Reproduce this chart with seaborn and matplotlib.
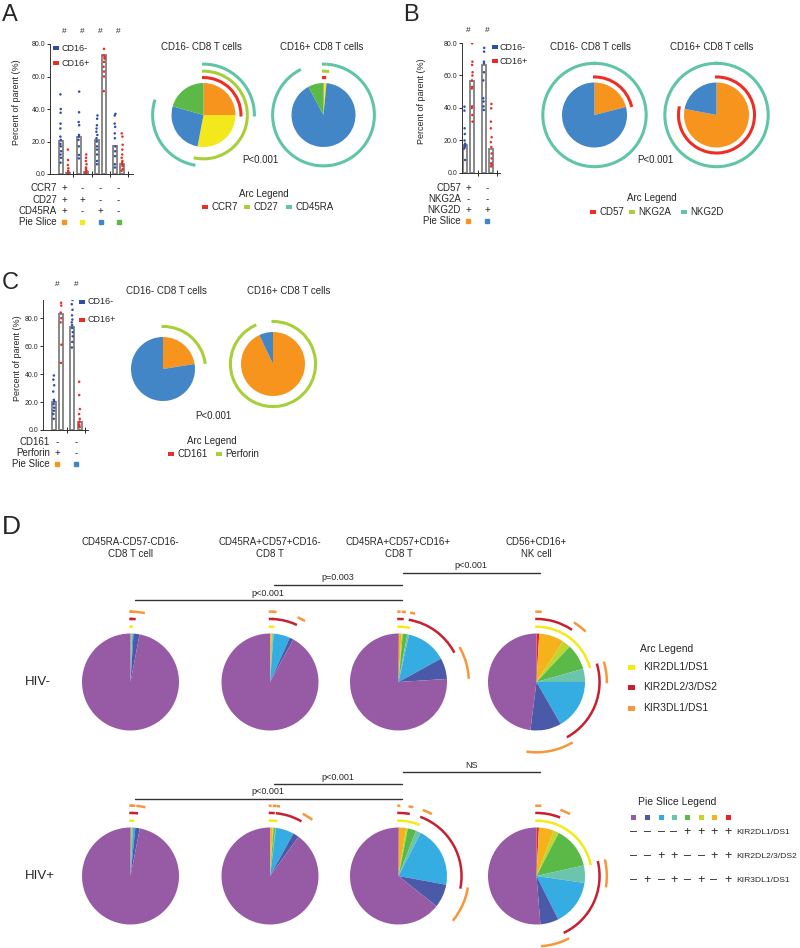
import numpy as np
import pandas as pd
import matplotlib
matplotlib.use("Agg")
import matplotlib.pyplot as plt
from matplotlib.patches import Arc, Rectangle
from matplotlib.transforms import blended_transform_factory
import seaborn as sns

W, H = 800, 948

# ----------------------------- colours -----------------------------
CD16N_COL = "#2E4DA6"
CD16P_COL = "#EC2A24"
ORANGE, YELLOW, BLUE, GREEN = "#F7941D", "#F2E81C", "#4286C7", "#5CB847"
ARC_RED, ARC_YG, ARC_TEAL = "#EE2E24", "#A8CF38", "#5FC5A6"
KIR_COLS = ["#975AA4", "#4A5AA8", "#35ADE2", "#6BC4AC", "#5BB947", "#BFD630", "#F6B21A", "#EC2227"]
KIR_ARC_COLS = ["#F4EA1A", "#C8202F", "#F7963A"]

# ----------------------------- data: panel A -----------------------------
A_MARKERS = ["CCR7", "CD27", "CD45RA"]
A_SIGNS = [["+", "-", "-", "-"], ["+", "+", "-", "-"], ["+", "-", "+", "-"]]
A_SLICE_COLS = [ORANGE, YELLOW, BLUE, GREEN]
A_BAR_CD16N = [20.3, 22.7, 21.0, 17.0]
A_BAR_CD16P = [0.8, 1.5, 73.0, 6.0]
A_DOTS_CD16N = [[49, 40, 37.7, 31, 28, 23, 21, 18.5, 17, 14, 12, 10, 7],
                [50.7, 38, 32, 30, 24, 23, 21, 17, 11.7, 9.6],
                [36, 34, 30, 28, 26, 24, 22, 20, 17, 15, 12, 8, 6],
                [37, 36, 31, 29, 25, 22, 17, 14, 11, 6, 4]]
A_DOTS_CD16P = [[15, 8.6, 5.5, 3.5, 2, 1.4, 0.8, 0.4],
                [12, 10, 8, 6, 4, 3, 2, 1.5, 1, 0.5],
                [77, 73, 72, 71, 69, 66, 63, 60, 51],
                [25, 23, 18, 15, 12, 10, 8, 7, 6, 5, 3, 2]]
A_PIE_CD16N = [25.0, 28.0, 26.4, 20.6]
A_PIE_CD16P = [0.5, 1.0, 90.7, 7.8]

# ----------------------------- data: panel B -----------------------------
B_MARKERS = ["CD57", "NKG2A", "NKG2D"]
B_SIGNS = [["+", "-"], ["-", "-"], ["+", "+"]]
B_SLICE_COLS = [ORANGE, BLUE]
B_BAR_CD16N = [17.5, 66.5]
B_BAR_CD16P = [56.5, 15.0]
B_DOTS_CD16N = [[40.8, 38.4, 27.5, 24, 20, 18, 17, 16, 15, 8],
                [77, 74.7, 68.5, 67.5, 62, 57, 46, 44, 41, 38.8]]
B_DOTS_CD16P = [[79.8, 68.5, 66.5, 62, 60, 57, 53, 52, 41, 40, 35.7, 31.6],
                [42.5, 39.8, 31.6, 27.5, 22, 19, 16, 12, 9, 6, 5, 4]]
B_PIE_CD16N = [21.0, 79.0]
B_PIE_CD16P = [78.0, 22.0]

# ----------------------------- data: panel C -----------------------------
C_MARKERS = ["CD161", "Perforin"]
C_SIGNS = [["-", "-"], ["+", "-"]]
C_SLICE_COLS = [ORANGE, BLUE]
C_BAR_CD16N = [20.0, 74.0]
C_BAR_CD16P = [83.0, 5.5]
C_DOTS_CD16N = [[39, 36, 32, 27.5, 21.6, 20.6, 18.5, 16, 13.8, 11.4, 8],
                [93, 90, 86, 82, 79, 77, 75, 73, 70, 67, 63, 59]]
C_DOTS_CD16P = [[95, 91, 89, 84, 80, 77, 61, 48],
                [34.5, 25, 15, 11.4, 8, 6, 4, 3, 2]]
C_PIE_CD16N = [22.5, 77.5]
C_PIE_CD16P = [93.0, 7.0]

# ----------------------------- data: panel D -----------------------------
# slice order = legend order: purple, dark blue, light blue, teal, green, yellow-green, orange, red
KIR_MARKERS = ["KIR2DL1/DS1", "KIR2DL2/3/DS2", "KIR3DL1/DS1"]
KIR_SIGNS = [["-", "-", "-", "-", "+", "+", "+", "+"],
             ["-", "-", "+", "+", "-", "-", "+", "+"],
             ["-", "+", "-", "+", "-", "+", "-", "+"]]
D_COLUMNS = ["CD45RA-CD57-CD16-\nCD8 T cell", "CD45RA+CD57+CD16-\nCD8 T",
             "CD45RA+CD57+CD16+\nCD8 T", "CD56+CD16+\nNK cell"]
D_ROWS = ["HIV-", "HIV+"]
D_HIVN = [[97.0, 2.0, 0.4, 0.25, 0.15, 0.05, 0.1, 0.05],
          [92.0, 1.3, 5.5, 0.3, 0.2, 0.1, 0.5, 0.1],
          [76.0, 7.0, 13.5, 0.6, 1.5, 0.4, 0.8, 0.2],
          [48.0, 10.3, 16.7, 4.4, 8.6, 2.8, 8.3, 0.9]]
D_HIVP = [[96.9, 1.5, 0.8, 0.1, 0.3, 0.2, 0.1, 0.1],
          [90.0, 2.0, 6.0, 0.2, 0.6, 0.3, 0.8, 0.1],
          [64.3, 7.8, 20.3, 1.7, 2.8, 0.55, 2.4, 0.15],
          [51.3, 6.1, 15.3, 5.8, 13.9, 1.8, 5.0, 0.8]]
D_TESTS_HIVN = [("p<0.001", 0, 2), ("p=0.003", 1, 2), ("p<0.001", 2, 3)]
D_TESTS_HIVP = [("p<0.001", 0, 2), ("p<0.001", 1, 2), ("NS", 2, 3)]

# ----------------------------- layout (pixels) -----------------------------
ARC_RADII = [1.17, 1.37, 1.59]
KIR_RADII = [1.14, 1.30, 1.45]
D_PIE_X = [130.5, 270, 398.5, 536.5]
D_PIE_Y = [682, 876]
D_R = 48.5

sns.set_style("ticks")
plt.rcParams["font.family"] = ["Liberation Sans", "DejaVu Sans"]

fig = plt.figure(figsize=(W / 100, H / 100), dpi=100)

ov = fig.add_axes([0, 0, 1, 1])
ov.set_xlim(0, W)
ov.set_ylim(H, 0)
ov.axis("off")
ov.set_zorder(10)


def px_rect(x0, y0, x1, y1):
    return [x0 / W, 1 - y1 / H, (x1 - x0) / W, (y1 - y0) / H]


def text(x, y, s, size=7, ha="center", va="center", **kw):
    ov.text(x, y, s, fontsize=size, ha=ha, va=va, **kw)


def swatch(x, y, col, w=6, h=4):
    ov.add_patch(Rectangle((x, y - h / 2), w, h, color=col, lw=0))


def bar_panel(box, xlim, ylim, bar_n, bar_p, dots_n, dots_p, hash_y, ylab_x):
    x0, y0, x1, y1 = box
    ax = fig.add_axes(px_rect(*box))
    groups = [f"g{i}" for i in range(len(bar_n))]
    bar_df = pd.DataFrame({"group": groups * 2,
                           "cells": ["CD16-"] * len(groups) + ["CD16+"] * len(groups),
                           "pct": list(bar_n) + list(bar_p)})
    rows = []
    for cells, dots in (("CD16-", dots_n), ("CD16+", dots_p)):
        for g, vals in zip(groups, dots):
            rows += [(g, cells, v) for v in vals]
    dot_df = pd.DataFrame(rows, columns=["group", "cells", "pct"])

    sns.barplot(data=bar_df, x="group", y="pct", hue="cells", order=groups,
                hue_order=["CD16-", "CD16+"], palette={"CD16-": "white", "CD16+": "white"},
                width=0.8, gap=0.45, errorbar=None, edgecolor="#7F7F7F", linewidth=1.3,
                saturation=1, legend=False, ax=ax)
    sns.stripplot(data=dot_df, x="group", y="pct", hue="cells", order=groups,
                  hue_order=["CD16-", "CD16+"], palette={"CD16-": CD16N_COL, "CD16+": CD16P_COL},
                  dodge=True, jitter=0.06, size=1.8, linewidth=0, legend=False, ax=ax, zorder=3)
    ax.set_xlim(*xlim)
    ax.set_ylim(*ylim)
    ax.set_xticks(np.arange(len(groups)) + 0.5)
    ax.set_xticklabels([])
    ax.set_yticks([0, 20, 40, 60, 80])
    ax.set_yticklabels([f"{v:.1f}" for v in [0, 20, 40, 60, 80]])
    ax.tick_params(axis="x", direction="inout", length=4, width=0.7)
    ax.tick_params(axis="y", direction="out", length=2.5, width=0.7, labelsize=5, pad=1)
    ax.set_xlabel("")
    ax.set_ylabel("Percent of parent (%)", fontsize=6.5)
    ax.yaxis.label.set_va("center")
    ax.yaxis.set_label_coords((ylab_x - x0) / (x1 - x0), 0.55)
    for sp in ("left", "bottom"):
        ax.spines[sp].set_linewidth(0.7)
        ax.spines[sp].set_color("#333333")
    sns.despine(ax=ax)
    blend = blended_transform_factory(ax.transData, ov.transData)
    for i in range(len(groups)):
        ax.text(i, hash_y, "#", fontsize=6, ha="center", va="center", transform=blend)
    return ax, blend


def sign_rows(ax, blend, label_x, ys, markers, signs, slice_cols):
    for y, name, row in zip(ys, markers, signs):
        text(label_x, y, name, ha="right")
        for i, s in enumerate(row):
            ax.text(i, y, s, fontsize=7, ha="center", va="center", transform=blend)
    text(label_x, ys[len(markers)], "Pie Slice", ha="right")
    for i, col in enumerate(slice_cols):
        ax.plot(i, ys[len(markers)], marker="s", ms=3, color=col, lw=0,
                transform=blend, clip_on=False)


def cd16_legend(x, ys):
    for y, col, lab in zip(ys, [CD16N_COL, CD16P_COL], ["CD16-", "CD16+"]):
        swatch(x, y, col, w=6, h=4)
        text(x + 8, y, lab, size=6.5, ha="left")


def pie_axes(cx, cy, r, ext):
    half = r * ext
    ax = fig.add_axes(px_rect(cx - half, cy - half, cx + half, cy + half))
    return ax


def draw_pie(ax, vals, cols, signs, arc_cols, radii, lw, ext):
    ax.pie(vals, colors=cols, startangle=90, counterclock=False, radius=1,
           wedgeprops={"linewidth": 0})
    edges = np.concatenate([[0.0], np.cumsum(vals) / np.sum(vals)])
    for row, col, rad in zip(signs, arc_cols, radii):
        i = 0
        while i < len(row):
            if row[i] != "+":
                i += 1
                continue
            j = i
            while j + 1 < len(row) and row[j + 1] == "+":
                j += 1
            ax.add_patch(Arc((0, 0), 2 * rad, 2 * rad, theta1=90 - 360 * edges[j + 1],
                             theta2=90 - 360 * edges[i], color=col, lw=lw,
                             capstyle="projecting"))
            i = j + 1
    ax.set_xlim(-ext, ext)
    ax.set_ylim(-ext, ext)
    ax.set_aspect("equal")
    ax.axis("off")


def arc_legend(title_xy, y, entries):
    text(*title_xy, "Arc Legend")
    for x, col, lab in entries:
        swatch(x, y, col, w=6, h=4)
        text(x + 9, y, lab, ha="left")


# ============================== panel A ==============================
text(2, 15, "A", size=17, ha="left")
axA, blA = bar_panel((50, 44, 133, 174), (-0.8, 3.8), (0, 80), A_BAR_CD16N, A_BAR_CD16P,
                     A_DOTS_CD16N, A_DOTS_CD16P, 31, 17)
sign_rows(axA, blA, 57, [188, 200, 211, 222], A_MARKERS, A_SIGNS, A_SLICE_COLS)
cd16_legend(53, [48, 63])
for cx, title, vals in zip([203.5, 323.5], ["CD16- CD8 T cells", "CD16+ CD8 T cells"],
                           [A_PIE_CD16N, A_PIE_CD16P]):
    text(cx - 2, 47, title)
    ax = pie_axes(cx, 115, 32, 1.75)
    draw_pie(ax, vals, A_SLICE_COLS, A_SIGNS, [ARC_RED, ARC_YG, ARC_TEAL], ARC_RADII, 2.2, 1.75)
text(260, 160, "P<0.001")
arc_legend((264, 194), 207, [(202, ARC_RED, "CCR7"), (244, ARC_YG, "CD27"),
                             (286, ARC_TEAL, "CD45RA")])

# ============================== panel B ==============================
text(403, 15, "B", size=17, ha="left")
axB, blB = bar_panel((462, 43, 500, 173), (-0.34, 1.66), (0, 80), B_BAR_CD16N, B_BAR_CD16P,
                     B_DOTS_CD16N, B_DOTS_CD16P, 30, 422)
sign_rows(axB, blB, 461, [188, 199, 210, 221], B_MARKERS, B_SIGNS, B_SLICE_COLS)
cd16_legend(492, [47, 61])
for cx, tx, title, vals in zip([594.5, 716.5], [590, 712], ["CD16- CD8 T cells", "CD16+ CD8 T cells"],
                               [B_PIE_CD16N, B_PIE_CD16P]):
    text(tx, 47, title)
    ax = pie_axes(cx, 115, 32.5, 1.75)
    draw_pie(ax, vals, B_SLICE_COLS, B_SIGNS, [ARC_RED, ARC_YG, ARC_TEAL], ARC_RADII, 2.2, 1.75)
text(655, 160, "P<0.001")
arc_legend((652, 198), 212, [(590, ARC_RED, "CD57"), (629, ARC_YG, "NKG2A"),
                             (681, ARC_TEAL, "NKG2D")])

# ============================== panel C ==============================
text(2, 283, "C", size=17, ha="left")
axC, blC = bar_panel((43, 300, 88, 430), (-0.78, 1.65), (0, 93), C_BAR_CD16N, C_BAR_CD16P,
                     C_DOTS_CD16N, C_DOTS_CD16P, 285, 17)
sign_rows(axC, blC, 50, [442, 453, 464], C_MARKERS, C_SIGNS, C_SLICE_COLS)
cd16_legend(79, [302, 320])
for cx, cy, tx, title, vals in zip([163, 273], [369, 364], [166, 289],
                                   ["CD16- CD8 T cells", "CD16+ CD8 T cells"],
                                   [C_PIE_CD16N, C_PIE_CD16P]):
    text(tx, 291, title)
    ax = pie_axes(cx, cy, 32, 1.75)
    draw_pie(ax, vals, C_SLICE_COLS, C_SIGNS, [ARC_RED, ARC_YG], [1.17, 1.33], 2.2, 1.75)
text(213, 416, "P<0.001")
arc_legend((212, 441), 454, [(168, ARC_RED, "CD161"), (216, ARC_YG, "Perforin")])

# ============================== panel D ==============================
text(2, 527, "D", size=19, ha="left")
for cx, title in zip(D_PIE_X, D_COLUMNS):
    text(cx, 548, title, linespacing=1.15)

for cy, row_name, pies in zip(D_PIE_Y, D_ROWS, [D_HIVN, D_HIVP]):
    text(25, cy, row_name, size=9.5, ha="left")
    for cx, vals in zip(D_PIE_X, pies):
        ax = pie_axes(cx, cy, D_R, 1.6)
        draw_pie(ax, vals[::-1], KIR_COLS[::-1], [s[::-1] for s in KIR_SIGNS],
                 KIR_ARC_COLS, KIR_RADII, 1.8, 1.6)

# significance brackets
for tests, ys in ((D_TESTS_HIVN, [600, 585, 573]), (D_TESTS_HIVP, [799, 784, 772])):
    for (lab, a, b), y in zip(tests, ys):
        xa, xb = D_PIE_X[a] + 4, D_PIE_X[b] + 3
        ov.plot([xa, xb], [y, y], color="#333333", lw=1.0)
        text((xa + xb) / 2, y - 7, lab, size=6.5)

# arc legend
text(640, 649, "Arc Legend", size=7.5, ha="left")
for y, col, lab in zip([667, 687, 708], KIR_ARC_COLS, KIR_MARKERS):
    swatch(628, y, col, w=7, h=5)
    text(643, y, lab, size=7.5, ha="left")

# pie slice legend
text(638, 802, "Pie Slice Legend", size=7.5, ha="left")
LEG_X = [633, 647, 661, 674, 687, 701, 714, 728]
for x, col in zip(LEG_X, KIR_COLS):
    swatch(x - 2.5, 817, col, w=5, h=5)
for y, row, lab in zip([832, 856, 880], KIR_SIGNS, KIR_MARKERS):
    for x, s in zip(LEG_X, row):
        text(x, y, "+" if s == "+" else "\u2013", size=9)
    text(736, y, lab, size=6.1, ha="left")

fig.savefig("out.png", dpi=100)
